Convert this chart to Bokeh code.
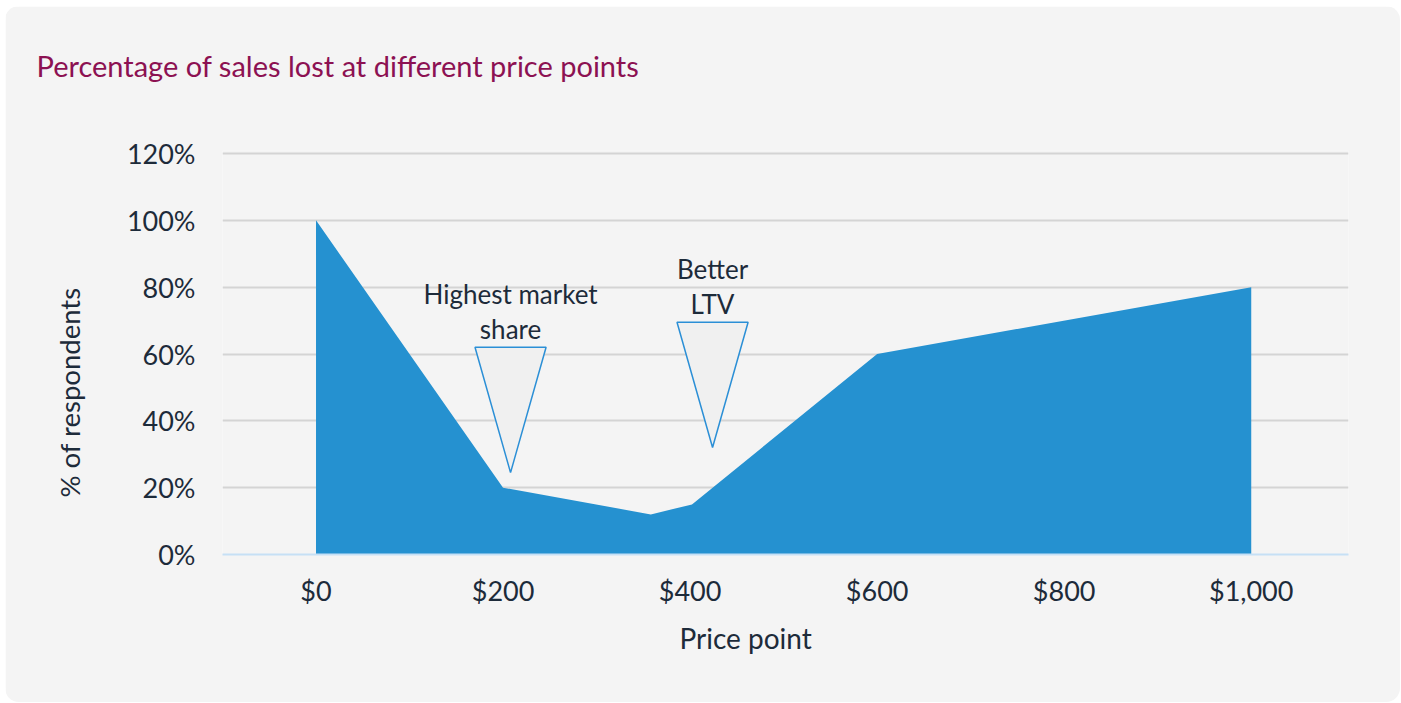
from bokeh.plotting import figure
from bokeh.models import Range1d, FixedTicker, NumeralTickFormatter, PrintfTickFormatter, ColumnDataSource, Title
from bokeh.core.properties import value
from bokeh.embed import file_html
from bokeh.resources import INLINE

# ---- data ----
price = [0, 200, 358, 402, 600, 1000]
pct_lost = [100, 20, 12, 15, 60, 80]

x_ticks = [0, 200, 400, 600, 800, 1000]
y_ticks = [0, 20, 40, 60, 80, 100, 120]

callout_labels = ["Highest market\nshare", "Better\nLTV"]
callout_x = [208, 424]
callout_top = [62, 69.5]
callout_tip = [24.5, 32]
callout_half = [38, 38]

TEXT = "#1d2b3a"
FONT = "Lato"

p = figure(width=1395, height=696, output_backend="svg", toolbar_location=None,
           x_range=Range1d(-100, 1104), y_range=Range1d(0, 120.9),
           min_border_left=217, min_border_right=52, min_border_top=144, min_border_bottom=148)
p.margin = (6, 0, 0, 5)
p.background_fill_color = "#f4f4f4"
p.border_fill_color = "#f4f4f4"
p.outline_line_color = None
p.styles = {"border-radius": "14px", "overflow": "hidden"}

p.title.text = "Percentage of sales lost at different price points"
p.title.text_font = FONT
p.title.text_font_size = "29px"
p.title.text_font_style = "normal"
p.title.text_color = "#8c1152"
p.title.vertical_align = "bottom"
p.title.offset = -186
p.title.standoff = 0

# spacer between title and plot area
p.add_layout(Title(text=" ", text_font_size="1px", standoff=65), "above")

p.varea(x=price, y1=0, y2=pct_lost, fill_color="#2591d0")

xs = [[cx - h, cx + h, cx] for cx, h in zip(callout_x, callout_half)]
ys = [[t, t, b] for t, b in zip(callout_top, callout_tip)]
p.patches(xs=xs, ys=ys, fill_color="#f0f0f0", line_color="#2b8fd6", line_width=1.5)

src = ColumnDataSource(dict(x=callout_x, y=callout_top, t=callout_labels))
p.text(x="x", y="y", text="t", source=src, text_align="center", text_baseline="bottom",
       y_offset=-2, text_font=value(FONT), text_font_size="26px", text_color=TEXT,
       text_line_height=1.1)

# axes
p.xaxis.ticker = FixedTicker(ticks=x_ticks)
p.xaxis.formatter = NumeralTickFormatter(format="$0,0")
p.yaxis.ticker = FixedTicker(ticks=y_ticks)
p.yaxis.formatter = PrintfTickFormatter(format="%d%%")

for ax in (p.xaxis, p.yaxis):
    ax.major_tick_line_color = None
    ax.minor_tick_line_color = None
    ax.major_label_text_font = FONT
    ax.major_label_text_font_size = "27px"
    ax.major_label_text_color = TEXT

p.xaxis.axis_line_color = "#c6e0f5"
p.xaxis.axis_line_width = 2
p.yaxis.axis_line_color = None
p.xaxis.major_label_standoff = 13
p.yaxis.major_label_standoff = 21

# axis titles
p.add_layout(Title(text="Price point", align="left", offset=457, standoff=18,
                   text_font=FONT, text_font_size="28px", text_font_style="normal",
                   text_color=TEXT), "below")
p.add_layout(Title(text="% of respondents", align="left", offset=57, standoff=76,
                   text_font=FONT, text_font_size="27.5px", text_font_style="normal",
                   text_color=TEXT), "left")

p.xgrid.grid_line_color = None
p.ygrid.grid_line_color = "#d4d4d4"
p.ygrid.grid_line_width = 2

open("out.html", "w").write(file_html(p, INLINE))
